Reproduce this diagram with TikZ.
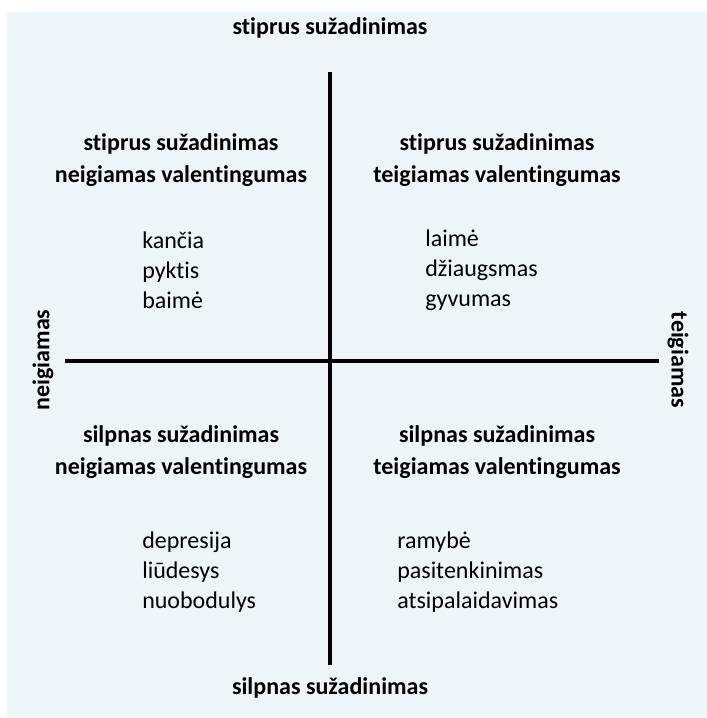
\documentclass[tikz,border=0pt]{standalone}
\usepackage{fontspec}
\setmainfont{Carlito}[Ligatures={NoCommon}, RawFeature={-liga;-clig;-calt}]
\definecolor{panel}{RGB}{238,245,249}
\tikzset{
  heading/.style={font=\fontsize{18}{24.5}\selectfont\bfseries, align=center, inner sep=0pt},
  emotions/.style={font=\fontsize{18}{22.5}\selectfont, align=left, anchor=west, inner sep=0pt},
  axislabel/.style={font=\fontsize{18}{22}\selectfont\bfseries, inner sep=0pt},
  axisline/.style={line width=2.3pt, black}
}

\begin{document}
\begin{tikzpicture}[x=0.75pt, y=-0.75pt]
      \useasboundingbox (0,0) rectangle (707,718);
      \fill[panel] (7,12) rectangle (707,718);

      % axes
      \coordinate (ytop) at (330,72);
      \coordinate (ybot) at (330,665);
      \coordinate (xleft) at (65,361);
      \coordinate (xright) at (659,361);
      \draw[axisline] (ytop) -- (ybot);
      \draw[axisline] (xleft) -- (xright);

      \node[axislabel] (strong) at (330,28) {stiprus sužadinimas};
      \node[axislabel] (weak) at (330,688) {silpnas sužadinimas};
      \node[axislabel, rotate=90] (neg) at (43,360) {neigiamas};
      \node[axislabel, rotate=-90] (pos) at (678,360) {teigiamas};

      % quadrants
      \node[heading] (ulhead) at (181,160) {stiprus sužadinimas\\neigiamas valentingumas};
      \node[heading] (urhead) at (497,160) {stiprus sužadinimas\\teigiamas valentingumas};
      \node[heading] (llhead) at (181,452) {silpnas sužadinimas\\neigiamas valentingumas};
      \node[heading] (lrhead) at (497,452) {silpnas sužadinimas\\teigiamas valentingumas};

      \node[emotions] (ullist) at (142,270) {kančia\\pyktis\\baimė};
      \node[emotions] (urlist) at (425,270) {laimė\\džiaugsmas\\gyvumas};
      \node[emotions] (lllist) at (142,572) {depresija\\liūdesys\\nuobodulys};
      \node[emotions] (lrlist) at (397,572) {ramybė\\pasitenkinimas\\atsipalaidavimas};
    \end{tikzpicture}
\end{document}
